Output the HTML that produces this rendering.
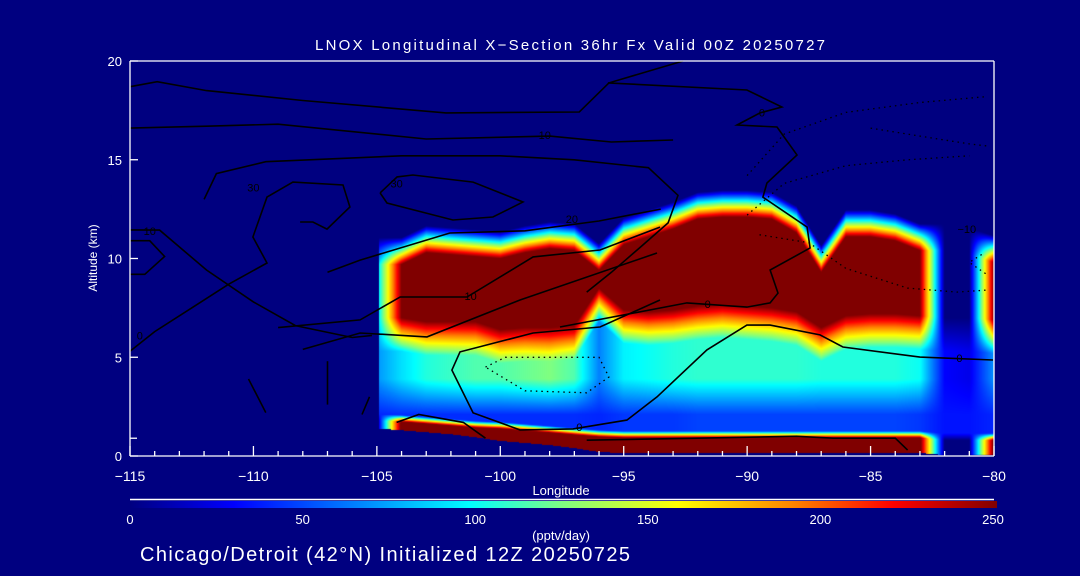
<!DOCTYPE html>
<html><head><meta charset="utf-8"><style>
html,body{margin:0;padding:0;background:#000080;}
#wrap{position:relative;width:1080px;height:576px;background:#000080;overflow:hidden;font-family:"Liberation Sans",sans-serif;}
#field{position:absolute;left:130px;top:61px;}
#over{position:absolute;left:0;top:0;}
</style></head><body>
<div id="wrap">
<canvas id="field" width="864" height="395"></canvas>
<svg id="over" width="1080" height="576">
<defs><linearGradient id="cbar" x1="0" x2="1" y1="0" y2="0">
<stop offset="0" stop-color="#000080"/><stop offset="0.12" stop-color="#0000ff"/><stop offset="0.26" stop-color="#0080ff"/><stop offset="0.392" stop-color="#00ffff"/><stop offset="0.5" stop-color="#80ff80"/><stop offset="0.632" stop-color="#ffff00"/><stop offset="0.768" stop-color="#ff8000"/><stop offset="0.88" stop-color="#ff0000"/><stop offset="1" stop-color="#800000"/></linearGradient></defs>
<g id="contours"></g>
<g id="axes"></g>
<text x="570" y="50" fill="#fff" font-size="15" text-anchor="middle" textLength="510">LNOX Longitudinal X−Section 36hr  Fx Valid 00Z 20250727</text>
<text x="0" y="0" fill="#fff" font-size="12" text-anchor="middle" transform="translate(97,258) rotate(-90)">Altitude (km)</text>
<text x="561" y="495" fill="#fff" font-size="13" text-anchor="middle">Longitude</text>
<line x1="130" y1="499.5" x2="994" y2="499.5" stroke="#fff" stroke-width="1.5"/>
<rect x="130" y="501" width="867" height="7" fill="url(#cbar)"/>
<g id="cbticks"></g>
<text x="561" y="540" fill="#fff" font-size="13" text-anchor="middle">(pptv/day)</text>
<text x="140" y="561" fill="#fff" font-size="20" textLength="490">Chicago/Detroit (42°N) Initialized 12Z 20250725</text>
</svg>
</div>
<script>
// ---- field data (per longitude column) ----
const lons    = [-105,-104,-103,-102,-101,-100,-99,-98,-97,-96,-95,-94,-93,-92,-91,-90,-89,-88,-87,-86,-85,-84,-83,-82,-81,-80];
const redTop  = [9.7,9.7,10.3,10.2,10.1,10.0,10.3,10.5,10.4,9.4,10.7,11.1,11.5,12.0,12.1,12.1,12.0,11.3,9.3,11.1,11.1,10.9,10.4,10.4,10.2,9.8];
const redBot  = [7.0,7.0,6.8,6.8,6.8,6.4,6.5,6.5,6.6,8.5,7.4,7.3,7.4,7.6,7.7,7.6,7.5,7.3,6.5,7.1,7.2,7.2,7.1,7.0,7.0,6.9];
const peak    = [80,250,250,250,250,250,250,250,250,250,250,250,250,250,250,250,250,250,250,250,250,250,250,0,0,250];
const midVal  = [70,90,105,110,115,115,120,125,115,65,95,100,105,108,108,108,108,108,105,105,105,105,100,30,25,70];
const lowVal  = [40,42,42,42,42,42,42,42,42,40,45,45,45,48,48,48,48,48,48,48,48,48,45,35,35,40];
const sfcTop  = [1.8,1.72,1.62,1.52,1.42,1.37,1.27,1.17,1.06,0.96,0.91,0.91,0.91,0.91,0.91,0.91,0.91,0.91,0.91,0.91,0.91,0.91,0.91,0.8,0.8,0.8];
const sfcBot  = [1.4,1.3,1.2,1.1,0.95,0.76,0.66,0.55,0.4,0.2,0.15,0.15,0.15,0.15,0.15,0.15,0.15,0.15,0.15,0.15,0.15,0.15,0.15,0.05,0.05,0.05];
const sfcPeak = [0,260,260,260,260,260,260,260,260,260,260,260,260,260,260,260,260,260,260,260,260,260,260,0,0,260];
// ---- contours (lon, alt) ----
const contourSolid = [
 [[-115,18.7],[-113.9,18.95],[-111.9,18.5],[-108,18.0],[-102.2,17.37],[-96.8,17.42],[-95.6,18.89],[-92.6,20]],
 [[-115,16.6],[-111.9,16.7],[-109,16.8],[-103,16.05],[-98,16.2],[-95.5,15.9],[-93,16.0]],
 [[-112,13.0],[-111.5,14.3],[-109.5,14.9],[-104,15.2],[-100,15.2],[-97,15.0],[-94,14.6],[-92.8,13.2],[-93.2,11.8],[-94.3,10.6],[-95.5,9.3],[-96.5,8.3]],
 [[-104.87,13.32],[-104.18,14.13],[-103.54,14.23],[-101.1,13.87],[-99.08,12.86],[-100.3,12.1],[-101.92,11.95],[-104.59,12.81],[-104.87,13.32]],
 [[-115,5.3],[-114,6.3],[-112.5,7.5],[-111,8.7],[-109.45,9.77],[-110.02,11.09],[-109.45,13.11],[-108.4,13.87],[-106.37,13.72],[-106.09,12.61],[-107.02,11.49],[-107.59,11.85],[-108.11,11.85]],
 [[-115,11.45],[-113.8,11.44],[-111.9,9.42],[-110,7.8],[-108.3,6.6],[-106,6.0],[-105.2,6.1]],
 [[-115,10.9],[-114.2,10.9],[-113.6,10.1],[-114.4,9.2],[-115,9.2]],
 [[-107,9.3],[-105.68,9.92],[-102.04,11.29],[-99,11.4],[-96,11.9],[-93.5,12.5]],
 [[-109,6.5],[-105.68,6.89],[-104.06,8.05],[-101.35,8.05],[-98.67,10.08],[-95.96,10.43],[-93.53,11.59]],
 [[-108,5.4],[-105.68,6.23],[-102.97,6.03],[-99.2,7.9],[-93.65,10.28]],
 [[-97.58,6.53],[-92.44,7.75],[-90.01,7.54],[-89.07,7.75],[-88.75,8.25],[-89.07,9.42],[-87.45,10.53],[-87.57,11.59],[-89.36,13.11],[-89.2,13.82],[-87.98,15.24],[-88.79,16.66],[-90.41,16.76],[-89.48,17.37],[-88.59,17.67],[-90.01,18.53],[-95.64,18.89]],
 [[-93.53,7.9],[-95.96,6.53],[-98.67,6.23],[-101.63,5.27],[-101.96,4.35],[-101.1,2.18],[-99.2,1.32],[-97.05,1.37],[-94.87,1.82],[-93.65,2.99],[-91.63,5.37],[-90.01,6.63],[-89.07,6.63],[-87.05,6.13],[-86.12,5.52],[-83,5.01],[-80.04,4.86]],
 [[-104.2,1.7],[-103.3,2.1],[-101.5,1.7],[-100.6,0.9]],
 [[-96.5,0.8],[-92,0.9],[-88,1.0],[-86.5,0.9],[-84,0.9],[-83.5,0.3]],
 [[-110.2,3.9],[-109.5,2.2]],[[-107,4.8],[-107,2.6]],[[-105.6,2.1],[-105.3,3.0]]
];
const contourDotted = [
 [[-100.6,4.5],[-99.8,5.0],[-96,5.0],[-95.6,4.0],[-96.5,3.2],[-99,3.3],[-100.6,4.5]],
 [[-90,14.2],[-88.5,16.3],[-86,17.4],[-83,17.9],[-80.3,18.2]],
 [[-90,12.2],[-88.5,13.8],[-86,14.7],[-83.5,15.0],[-81,15.2]],
 [[-85,16.6],[-83,16.2],[-81,15.8],[-80.3,15.7]],
 [[-89.5,11.2],[-87.5,10.8],[-86,9.5],[-83.5,8.5],[-81.5,8.3],[-80.3,8.4]],
 [[-80.5,10.2],[-81,9.8],[-80.3,9.2]]
];
const contourLabels = [["10",-101.2,8.1],["0",-91.6,7.7],["0",-81.4,4.96],["0",-96.8,1.47],["10",-98.2,16.25],["30",-110,13.6],["30",-104.2,13.8],["20",-97.1,12.0],["0",-89.4,17.4],["−10",-81.1,11.5],["10",-114.2,11.4],["0",-114.6,6.1]];
const xTicks = [-115,-110,-105,-100,-95,-90,-85,-80];
const yTicks = [0,5,10,15,20];
const cbTicks = [0,50,100,150,200,250];

const X0=130,X1=994,Y0=456,Y1=61;
function xs(lon){return X0+(lon+115)/35*(X1-X0);}
function ys(a){return Y0-a/20*(Y0-Y1);}
function cbx(v){return 130+v/250*863;}
const NS='http://www.w3.org/2000/svg';

const stops=[[0,[0,0,128]],[30,[0,0,255]],[65,[0,128,255]],[98,[0,255,255]],[125,[128,255,128]],[158,[255,255,0]],[192,[255,128,0]],[220,[255,0,0]],[250,[128,0,0]]];
function cmap(v){
  if(v<=0)return stops[0][1]; if(v>=250)return stops[stops.length-1][1];
  for(let i=1;i<stops.length;i++){ if(v<=stops[i][0]){const a=stops[i-1],b=stops[i];const t=(v-a[0])/(b[0]-a[0]);return [a[1][0]+(b[1][0]-a[1][0])*t,a[1][1]+(b[1][1]-a[1][1])*t,a[1][2]+(b[1][2]-a[1][2])*t];}}
}
function lerpArr(arr,f){const i=Math.floor(f),t=f-i;if(i>=arr.length-1)return arr[arr.length-1];return arr[i]+(arr[i+1]-arr[i])*t;}
function value(lon,alt){
  if(lon<-104.9)return 0;
  const f=Math.max(0,Math.min(lons.length-1,(lon-lons[0])));
  const rt=lerpArr(redTop,f),rb=lerpArr(redBot,f),pk=lerpArr(peak,f),md=lerpArr(midVal,f),lw=lerpArr(lowVal,f),st=lerpArr(sfcTop,f),sb=lerpArr(sfcBot,f),sp=lerpArr(sfcPeak,f);
  if(alt>=rb){ if(alt<=rt)return pk; return pk*Math.max(0,1-(alt-rt)/1.35); }
  if(alt>=rb-1.7){const t=(rb-alt)/1.7;return pk+(md-pk)*t;}
  if(alt>=3.9)return md;
  if(alt>=2.1){const t=(3.9-alt)/1.8;return md+(lw-md)*t;}
  if(alt>=st+0.35)return lw;
  if(alt>=st){const t=(alt-st)/0.35;return sp+(lw-sp)*t;}
  if(alt>=sb)return sp;
  return 0;
}
(function(){
  const c=document.getElementById('field'),ctx=c.getContext('2d');
  const W=c.width,H=c.height,img=ctx.createImageData(W,H);
  for(let py=0;py<H;py++){const alt=(Y0-(Y1+py+0.5))/(Y0-Y1)*20;
    for(let px=0;px<W;px++){const lon=-115+(px+0.5)/(X1-X0)*35;
      const col=cmap(value(lon,alt));const k=(py*W+px)*4;
      img.data[k]=col[0];img.data[k+1]=col[1];img.data[k+2]=col[2];img.data[k+3]=255;}}
  ctx.putImageData(img,0,0);
})();
(function(){
  const g=document.getElementById('contours');
  function draw(list,dotted){list.forEach(pts=>{const p=document.createElementNS(NS,'polyline');
    p.setAttribute('points',pts.map(q=>xs(q[0]).toFixed(1)+','+ys(q[1]).toFixed(1)).join(' '));
    p.setAttribute('fill','none');p.setAttribute('stroke','#000');p.setAttribute('stroke-width',dotted?'1.3':'1.6');
    if(dotted)p.setAttribute('stroke-dasharray','1.5,4');
    
    
    g.appendChild(p);});}
  draw(contourSolid,false);draw(contourDotted,true);
  contourLabels.forEach(l=>{const t=document.createElementNS(NS,'text');t.textContent=l[0];
    t.setAttribute('x',xs(l[1]));t.setAttribute('y',ys(l[2])+4);t.setAttribute('font-size','11');t.setAttribute('fill','#000');t.setAttribute('text-anchor','middle');
    
    
    g.appendChild(t);});
})();
(function(){
  const g=document.getElementById('axes');
  function line(x1,y1,x2,y2,name){const l=document.createElementNS(NS,'line');l.setAttribute('x1',x1);l.setAttribute('y1',y1);l.setAttribute('x2',x2);l.setAttribute('y2',y2);l.setAttribute('stroke','#fff');l.setAttribute('stroke-width','1.3');
    
    
    g.appendChild(l);}
  function text(s,x,y,anchor,size,name){const t=document.createElementNS(NS,'text');t.textContent=s;t.setAttribute('x',x);t.setAttribute('y',y);t.setAttribute('fill','#fff');t.setAttribute('font-size',size);t.setAttribute('text-anchor',anchor);
    
    
    g.appendChild(t);}
  line(X0,Y1,X1,Y1,'plot-border-top');line(X1,Y1,X1,Y0,'plot-border-right');line(X0,Y0,X1,Y0,'x-axis');line(X0,Y1,X0,Y0,'y-axis');
  for(let lon=-115;lon<=-80;lon++){const major=xTicks.indexOf(lon)>=0;line(xs(lon),Y0,xs(lon),Y0-(major?10:5),'x-tick');}
  xTicks.forEach(v=>text(v<0?'−'+(-v):String(v),xs(v),481,'middle',14,'x-tick-label'));
  yTicks.forEach(v=>{text(String(v),122,ys(v)+5,'end',13,'y-tick-label');line(X0,ys(v),X0+8,ys(v),'y-tick');});
  line(X0,ys(0.9),X0+7,ys(0.9),'y-minor-tick');
  const cg=document.getElementById('cbticks');
  cbTicks.forEach(v=>{const t=document.createElementNS(NS,'text');t.textContent=String(v);t.setAttribute('x',cbx(v));t.setAttribute('y',524);t.setAttribute('fill','#fff');t.setAttribute('font-size','13');t.setAttribute('text-anchor','middle');
    
    
    cg.appendChild(t);});
})();
</script>
</body></html>
